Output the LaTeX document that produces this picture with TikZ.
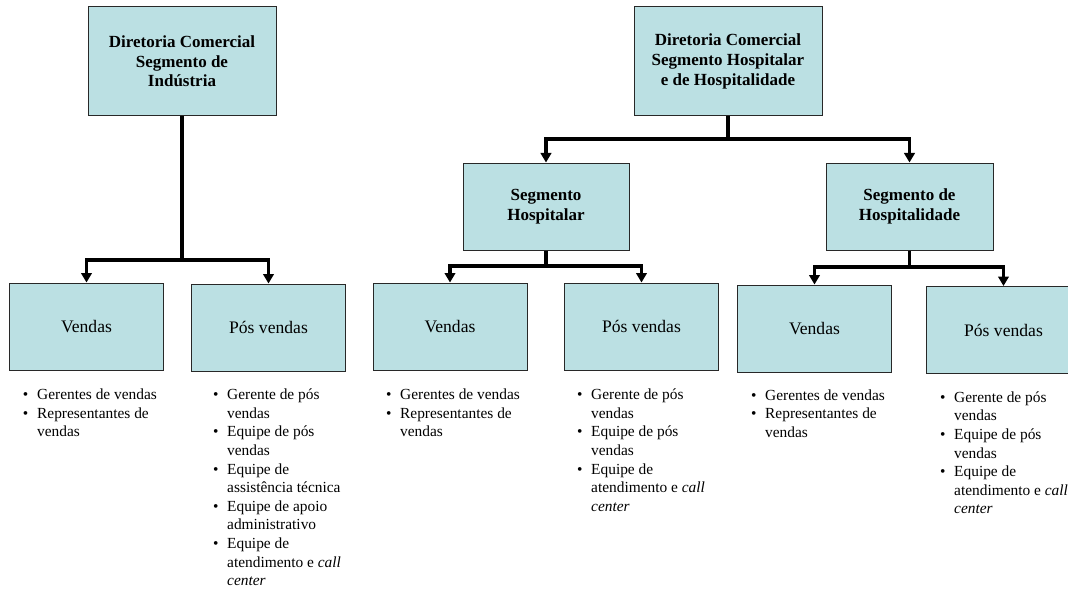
\documentclass[tikz,border=0pt]{standalone}
\usepackage{fontspec}
\setmainfont{Liberation Serif}
\usetikzlibrary{positioning,arrows.meta}
\definecolor{boxblue}{RGB}{187,224,227}
\definecolor{boxedge}{RGB}{40,40,40}

\begin{document}
\begin{tikzpicture}[
    x=1pt, y=-1pt,
    orgbox/.style={rectangle, draw=boxedge, fill=boxblue, line width=1pt,
                   inner sep=0pt, align=center},
    headbox/.style={orgbox, font=\fontsize{17}{19.7}\selectfont\bfseries},
    unitbox/.style={orgbox, minimum width=154pt, minimum height=87pt,
                    font=\fontsize{17.6}{20}\selectfont},
    itemlist/.style={anchor=north west, inner sep=0pt,
                     font=\fontsize{15.4}{18.6}\selectfont},
    link/.style={line width=3.2pt, draw=black},
    arrow/.style={link, -{Triangle[length=9.5pt,width=10.5pt]}}
]

\fill[white] (0,0) rectangle (1068,591);
\useasboundingbox (0,0) rectangle (1068,591);

\node[headbox, minimum width=188pt, minimum height=109pt] (dirInd) at (182,61.5)
    {Diretoria Comercial\\Segmento de\\Indústria};
\node[headbox, minimum width=188pt, minimum height=109pt] (dirHosp) at (728,61.5)
    {Diretoria Comercial\\Segmento Hospitalar\\e de Hospitalidade};

\node[headbox, minimum width=166pt, minimum height=87pt] (segHospitalar) at (546,206.5)
    {Segmento\\Hospitalar};
\node[headbox, minimum width=167pt, minimum height=87pt] (segHospitalidade) at (909.5,206.5)
    {Segmento de\\Hospitalidade};

\node[unitbox] (vendInd) at (86.5,326.5) {Vendas};
\node[unitbox] (posInd) at (268.5,327.5) {Pós vendas};
\node[unitbox] (vendHosp) at (450,326.5) {Vendas};
\node[unitbox] (posHosp) at (641.5,326.5) {Pós vendas};
\node[unitbox] (vendHot) at (814.5,328.5) {Vendas};
\node[unitbox] (posHot) at (1003.5,330) {Pós vendas};

\coordinate (jInd) at (182,260);
\coordinate (jDir) at (728,139);
\coordinate (jHosp) at (546,266);
\coordinate (jHot) at (909.5,267);

\draw[link] (dirInd.south) -- (jInd);
\draw[arrow] (jInd) -| (vendInd);
\draw[arrow] (jInd) -| (posInd);

\draw[link] (dirHosp.south) -- (jDir);
\draw[arrow] (jDir) -| (segHospitalar);
\draw[arrow] (jDir) -| (segHospitalidade);

\draw[link] (segHospitalar.south) -- (jHosp);
\draw[arrow] (jHosp) -| (vendHosp);
\draw[arrow] (jHosp) -| (posHosp);

\draw[link] (segHospitalidade.south) -- (jHot);
\draw[arrow] (jHot) -| (vendHot);
\draw[arrow] (jHot) -| (posHot);

\node[itemlist] (listVendInd) at (22.8,386.5) {%
  \begin{tabular}{@{}l@{\hspace{8.8pt}}l@{}}
  \textbullet & Gerentes de vendas\\
  \textbullet & Representantes de\\
              & vendas
  \end{tabular}};
\node[itemlist] (listPosInd) at (212.8,386.5) {%
  \begin{tabular}{@{}l@{\hspace{8.8pt}}l@{}}
  \textbullet & Gerente de pós\\
              & vendas\\
  \textbullet & Equipe de pós\\
              & vendas\\
  \textbullet & Equipe de\\
              & assistência técnica\\
  \textbullet & Equipe de apoio\\
              & administrativo\\
  \textbullet & Equipe de\\
              & atendimento e \textit{call}\\
              & \textit{center}
  \end{tabular}};
\node[itemlist] (listVendHosp) at (385.8,386.5) {%
  \begin{tabular}{@{}l@{\hspace{8.8pt}}l@{}}
  \textbullet & Gerentes de vendas\\
  \textbullet & Representantes de\\
              & vendas
  \end{tabular}};
\node[itemlist] (listPosHosp) at (576.8,386.5) {%
  \begin{tabular}{@{}l@{\hspace{8.8pt}}l@{}}
  \textbullet & Gerente de pós\\
              & vendas\\
  \textbullet & Equipe de pós\\
              & vendas\\
  \textbullet & Equipe de\\
              & atendimento e \textit{call}\\
              & \textit{center}
  \end{tabular}};
\node[itemlist] (listVendHot) at (750.8,387) {%
  \begin{tabular}{@{}l@{\hspace{8.8pt}}l@{}}
  \textbullet & Gerentes de vendas\\
  \textbullet & Representantes de\\
              & vendas
  \end{tabular}};
\node[itemlist] (listPosHot) at (939.8,389) {%
  \begin{tabular}{@{}l@{\hspace{8.8pt}}l@{}}
  \textbullet & Gerente de pós\\
              & vendas\\
  \textbullet & Equipe de pós\\
              & vendas\\
  \textbullet & Equipe de\\
              & atendimento e \textit{call}\\
              & \textit{center}
  \end{tabular}};

\end{tikzpicture}
\end{document}
